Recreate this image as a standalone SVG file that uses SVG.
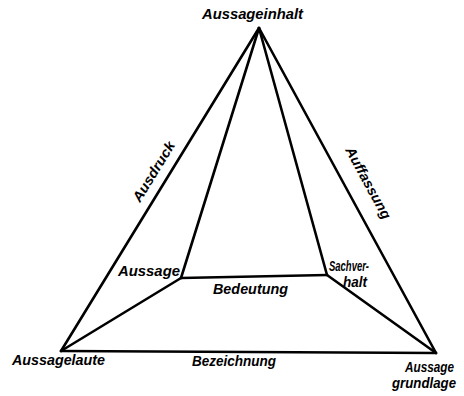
<svg xmlns="http://www.w3.org/2000/svg" width="464" height="396" viewBox="0 0 464 396">
<style>
.l{stroke:#000;stroke-width:2.6;fill:none;stroke-linejoin:round;stroke-linecap:round}
text{font-family:"Liberation Sans",Arial,sans-serif;font-style:italic;font-weight:bold;font-size:14px;fill:#000}
</style>
<rect width="464" height="396" fill="#fff"/>
<g id="connectors">
<line class="l" x1="259" y1="28" x2="61" y2="351"/>
<line class="l" x1="259" y1="28" x2="436" y2="353"/>
<line class="l" x1="61" y1="351" x2="436" y2="353"/>
<line class="l" x1="259" y1="28" x2="181" y2="278"/>
<line class="l" x1="259" y1="28" x2="327" y2="275"/>
<line class="l" x1="181" y1="278" x2="327" y2="275"/>
<line class="l" x1="61" y1="351" x2="181" y2="278"/>
<line class="l" x1="436" y1="353" x2="327" y2="275"/>
</g>
<g id="aussageinhalt"><text x="202" y="19" textLength="101" lengthAdjust="spacingAndGlyphs">Aussageinhalt</text></g>
<g id="aussagelaute"><text x="12" y="365" textLength="93" lengthAdjust="spacingAndGlyphs">Aussagelaute</text></g>
<g id="aussagegrundlage"><text x="405" y="372" textLength="49" lengthAdjust="spacingAndGlyphs">Aussage</text><text x="392" y="388" textLength="64" lengthAdjust="spacingAndGlyphs">grundlage</text></g>
<g id="aussage"><text x="118" y="276" textLength="62" lengthAdjust="spacingAndGlyphs">Aussage</text></g>
<g id="sachverhalt"><text x="329" y="271" textLength="40" lengthAdjust="spacingAndGlyphs">Sachver-</text><text x="343" y="287" textLength="24" lengthAdjust="spacingAndGlyphs">halt</text></g>
<g id="labels">
<text x="213" y="294" textLength="75" lengthAdjust="spacingAndGlyphs">Bedeutung</text>
<text x="192" y="366" textLength="84" lengthAdjust="spacingAndGlyphs">Bezeichnung</text>
<text transform="translate(140,203) rotate(-58.5)" textLength="68" lengthAdjust="spacingAndGlyphs">Ausdruck</text>
<text transform="translate(345,150) rotate(61.4)" textLength="80" lengthAdjust="spacingAndGlyphs">Auffassung</text>
</g>
</svg>
